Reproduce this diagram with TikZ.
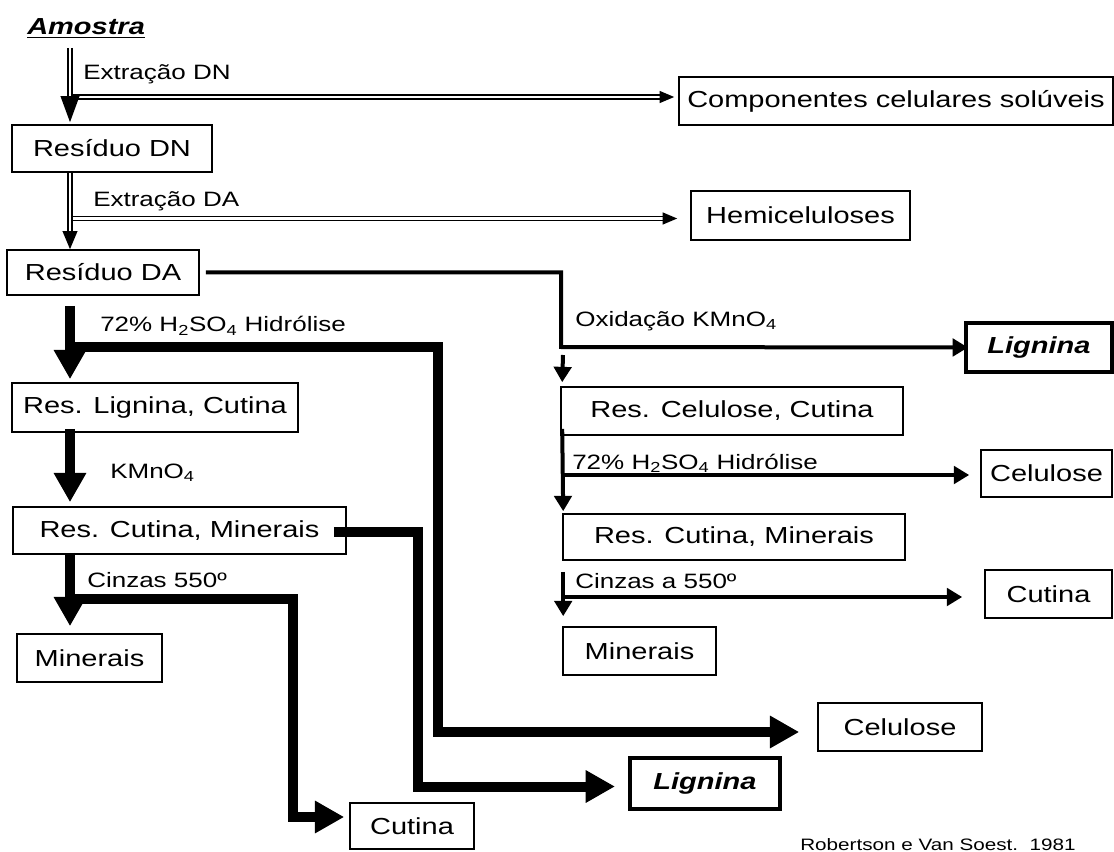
\documentclass[tikz,border=0pt]{standalone}
\usepackage{fontspec}
\setmainfont{Liberation Sans}[FakeStretch=1.25]
\usetikzlibrary{arrows.meta,calc}
\newdimen\pxu
\pxu=0.75pt

\begin{document}
\begin{tikzpicture}[x=0.75pt,y=-0.75pt]
	\tikzstyle{box}=[draw=black,line width=1.2pt,inner sep=0pt,font=\fontsize{17.4}{20}\selectfont]
	\tikzstyle{keybox}=[box,line width=3pt,font=\fontsize{17.4}{20}\selectfont\bfseries\itshape]
	\tikzstyle{lbl}=[anchor=base west,inner sep=0pt,font=\fontsize{15.6}{18}\selectfont]
	\tikzstyle{dblarrow}=[line width=1.1pt,double distance=1.8pt]
	\tikzstyle{medarrow}=[line width=3pt,line join=miter,-{Triangle[length=11.5pt,width=13pt]}]
	\tikzstyle{fatarrow}=[line width=7.5pt,line join=miter,-{Triangle[length=22pt,width=23pt]}]
	\useasboundingbox (0,0) rectangle (1114,852);

	\node[anchor=base west,inner sep=0pt,font=\fontsize{17.4}{20}\selectfont\bfseries\itshape](amostra) at (27,35) {\underline{Amostra}};
	\node[box,minimum width=200\pxu,minimum height=47\pxu](resdn) at (112,148.5) {Resíduo DN};
	\node[box,minimum width=434\pxu,minimum height=48\pxu](solub) at (896,101) {Componentes celulares solúveis};
	\node[box,minimum width=219\pxu,minimum height=49\pxu](hemi) at (800.5,215.5) {Hemiceluloses};
	\node[box,minimum width=192\pxu,minimum height=45\pxu](resda) at (103,272.5) {Resíduo DA};
	\node[box,minimum width=286\pxu,minimum height=49\pxu](resligcut) at (155,407.5) {Res. Lignina, Cutina};
	\node[box,minimum width=333\pxu,minimum height=47\pxu](rescutminA) at (179.5,530.5) {Res. Cutina, Minerais};
	\node[box,minimum width=145\pxu,minimum height=48\pxu](minA) at (89.5,658) {Minerais};
	\node[box,minimum width=124\pxu,minimum height=46\pxu](cutA) at (412,826) {Cutina};
	\node[keybox,minimum width=150\pxu,minimum height=51\pxu](ligA) at (705,783.5) {Lignina};
	\node[box,minimum width=164\pxu,minimum height=48\pxu](celA) at (900,727) {Celulose};
	\node[keybox,minimum width=146\pxu,minimum height=49\pxu](ligB) at (1039,347.5) {Lignina};
	\node[box,minimum width=342\pxu,minimum height=48\pxu](rescelcut) at (732,411) {Res. Celulose, Cutina};
	\node[box,minimum width=131\pxu,minimum height=47\pxu](celB) at (1046.5,473.5) {Celulose};
	\node[box,minimum width=342\pxu,minimum height=46\pxu](rescutminB) at (734,537) {Res. Cutina, Minerais};
	\node[box,minimum width=127\pxu,minimum height=48\pxu](cutB) at (1048.5,594) {Cutina};
	\node[box,minimum width=153\pxu,minimum height=48\pxu](minB) at (639.5,651) {Minerais};

	\node[lbl](extdn) at (83,80) {Extração DN};
	\node[lbl](extda) at (93,207) {Extração DA};
	\node[lbl](hydA) at (100,332) {72\% H\textsubscript{2}SO\textsubscript{4} Hidrólise};
	\node[lbl](oxA) at (110,478) {KMnO\textsubscript{4}};
	\node[lbl](ashA) at (87,587) {Cinzas 550º};
	\node[lbl](oxB) at (575,326) {Oxidação KMnO\textsubscript{4}};
	\node[lbl](hydB) at (572,469) {72\% H\textsubscript{2}SO\textsubscript{4} Hidrólise};
	\node[lbl](ashB) at (575,588) {Cinzas a 550º};
	\node[lbl,font=\fontsize{12.4}{14}\selectfont](ref) at (800,850) {Robertson e Van Soest.\ \ 1981};

	\coordinate (trunk) at (70,0);
	\coordinate (rtrunk) at (561,0);
	\coordinate (colA) at (438,0);
	\coordinate (colB) at (418,0);
	\coordinate (colC) at (293,0);
	\coordinate (hydsplit) at (70,347);
	\coordinate (ashsplit) at (70,599);
	\coordinate (oxsplit) at (561,347);
	\coordinate (celAin) at ($(celA.west)+(-18,5)$);
	\coordinate (ligAin) at ($(ligA.west)+(-13,3)$);
	\coordinate (cutAin) at ($(cutA.west)+(-5,-9)$);

	\draw[dblarrow,-{Triangle[length=11pt,width=9pt]}] ($(trunk |- solub.west)+(0,-4)$) -- ($(solub.west)+(-4,-4)$);
	\draw[dblarrow,-{Triangle[length=11pt,width=9pt]}] ($(trunk |- hemi.west)+(0,3)$) -- ($(hemi.west)+(-13,3)$);
	\draw[dblarrow,-{Triangle[length=19.5pt,width=14pt]}] ($(trunk |- amostra.base)+(0,13)$) -- ($(trunk |- resdn.north)+(0,-2)$);
	\draw[dblarrow,-{Triangle[length=13.5pt,width=11pt]}] (trunk |- resdn.south) -- (trunk |- resda.north);

	\draw[fatarrow] (hydsplit) -- (hydsplit -| colA) -- (colA |- celAin) -- (celAin);
	\draw[fatarrow] ($(trunk |- resda.south)+(0,10)$) -- ($(trunk |- resligcut.north)+(0,-3)$);
	\draw[fatarrow] ($(trunk |- resligcut.south)+(0,-4)$) -- ($(trunk |- rescutminA.north)+(0,-4)$);
	\draw[fatarrow] ($(rescutminA.east)+(-13,1.5)$) -- ($(rescutminA.east -| colB)+(0,1.5)$) -- (colB |- ligAin) -- (ligAin);
	\draw[fatarrow] (ashsplit) -- (ashsplit -| colC) -- (colC |- cutAin) -- (cutAin);
	\draw[fatarrow] ($(trunk |- rescutminA.south)+(0,-2)$) -- ($(trunk |- minA.north)+(0,-7)$);

	\draw[medarrow] ($(resda.east)+(6,0)$) -- (resda.east -| rtrunk) -- (oxsplit) -- ($(ligB.west)+(4,0)$);
	\draw[medarrow] ($(oxsplit)+(2,8)$) -- ($(rescelcut.north west)+(2,-4)$);
	\draw[medarrow] ($(rescelcut.south west)+(2,-7)$) -- ($(rescutminB.north west)+(1,-2)$);
	\draw[medarrow] ($(rescelcut.south west |- celB.west)+(2,1.5)$) -- ($(celB.west)+(-11,1.5)$);
	\draw[medarrow] ($(rescutminB.south west)+(1,11)$) -- ($(minB.north west)+(1,-10)$);
	\draw[medarrow] ($(rescutminB.south west |- cutB.west)+(1,3)$) -- ($(cutB.west)+(-22,3)$);
\end{tikzpicture}
\end{document}
